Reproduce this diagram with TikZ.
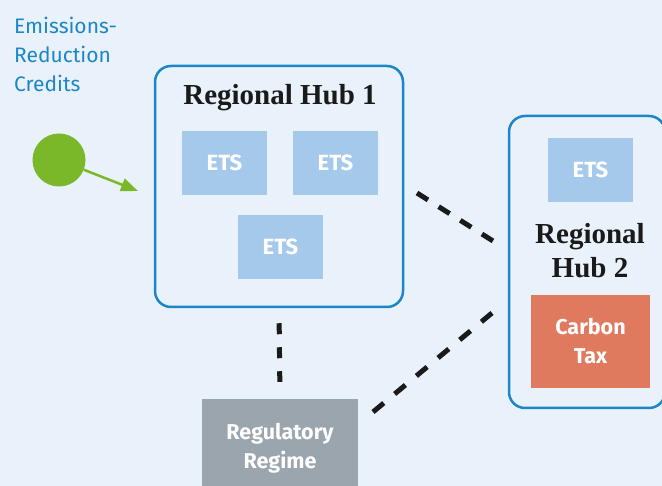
\documentclass[tikz,border=0pt]{standalone}
\usepackage{fontspec}
\setmainfont{Liberation Serif}
\setsansfont{Fira Sans}
\usetikzlibrary{arrows.meta}
\definecolor{bgblue}{HTML}{E9F1FA}
\definecolor{hubblue}{HTML}{1C86C8}
\definecolor{etsfill}{HTML}{A5C9EB}
\definecolor{taxfill}{HTML}{E07A5F}
\definecolor{regfill}{HTML}{9AA5AD}
\definecolor{creditgreen}{HTML}{7AB829}
\definecolor{txtdark}{HTML}{1A1A1A}
\tikzset{
  hubbox/.style={draw=hubblue, line width=2.5pt, rounded corners=16pt, inner sep=0pt},
  hubtitle/.style={text=txtdark, font=\rmfamily\bfseries\fontsize{29}{34}\selectfont, inner sep=0pt},
  etsbox/.style={fill=etsfill, minimum width=85pt, minimum height=64pt, inner sep=0pt,
    text=white, font=\sffamily\bfseries\fontsize{22}{24}\selectfont},
  solidbox/.style={inner sep=0pt, text=white, align=center,
    font=\sffamily\bfseries\fontsize{21.5}{29}\selectfont},
  linkdash/.style={draw=txtdark, line width=5pt},
}
\begin{document}
\begin{tikzpicture}[x=1pt,y=-1pt]
\useasboundingbox (0,0) rectangle (662,486);
\clip (0,0) rectangle (662,486);
\fill[bgblue] (0,0) rectangle (662,486);

% credits
\node[anchor=north west, inner sep=0pt, align=left, text=hubblue,
  font=\sffamily\fontsize{21}{29}\selectfont] (credits) at (14,17)
  {Emissions-\\Reduction\\Credits};
\node[circle, fill=creditgreen, minimum size=53pt, inner sep=0pt] (dot) at (59,160) {};
\coordinate (arrowend) at (138,191);
\draw[creditgreen, line width=2.5pt, -{Triangle[length=17pt,width=13pt]}] (dot) -- (arrowend);

% hub 1
\node[hubbox, minimum width=248pt, minimum height=241pt] (hub1) at (279,186.5) {};
\node[hubtitle, anchor=base] (hub1title) at (280,105) {Regional Hub 1};
\node[etsbox] (ets1) at (224.5,163) {ETS};
\node[etsbox] (ets2) at (335.5,163) {ETS};
\node[etsbox] (ets3) at (280.5,247) {ETS};

% hub 2
\node[hubbox, minimum width=156pt, minimum height=292pt] (hub2) at (587,262) {};
\node[etsbox] (ets4) at (590.5,170) {ETS};
\node[hubtitle, align=center] (hub2title) at (590,251) {Regional\\Hub 2};
\node[solidbox, fill=taxfill, minimum width=119pt, minimum height=93pt] (tax) at (590.5,341.5) {Carbon\\Tax};

% regulatory regime
\node[solidbox, fill=regfill, minimum width=156pt, minimum height=100pt] (reg) at (280,449) {};
\node[solidbox, text=white] (regtext) at (280,448) {Regulatory\\Regime};

% dashed links
\draw[linkdash, dash pattern=on 11pt off 13pt, shorten <=15pt, shorten >=17pt] (hub1.south) -- (reg.north);
\coordinate (l1a) at (417,193);
\coordinate (l1b) at (493,241);
\draw[linkdash, dash pattern=on 13pt off 12.6pt] (l1a) -- (l1b);
\coordinate (l2a) at (373,412);
\coordinate (l2b) at (492,313);
\draw[linkdash, dash pattern=on 14pt off 14.2pt] (l2a) -- (l2b);
\end{tikzpicture}
\end{document}
